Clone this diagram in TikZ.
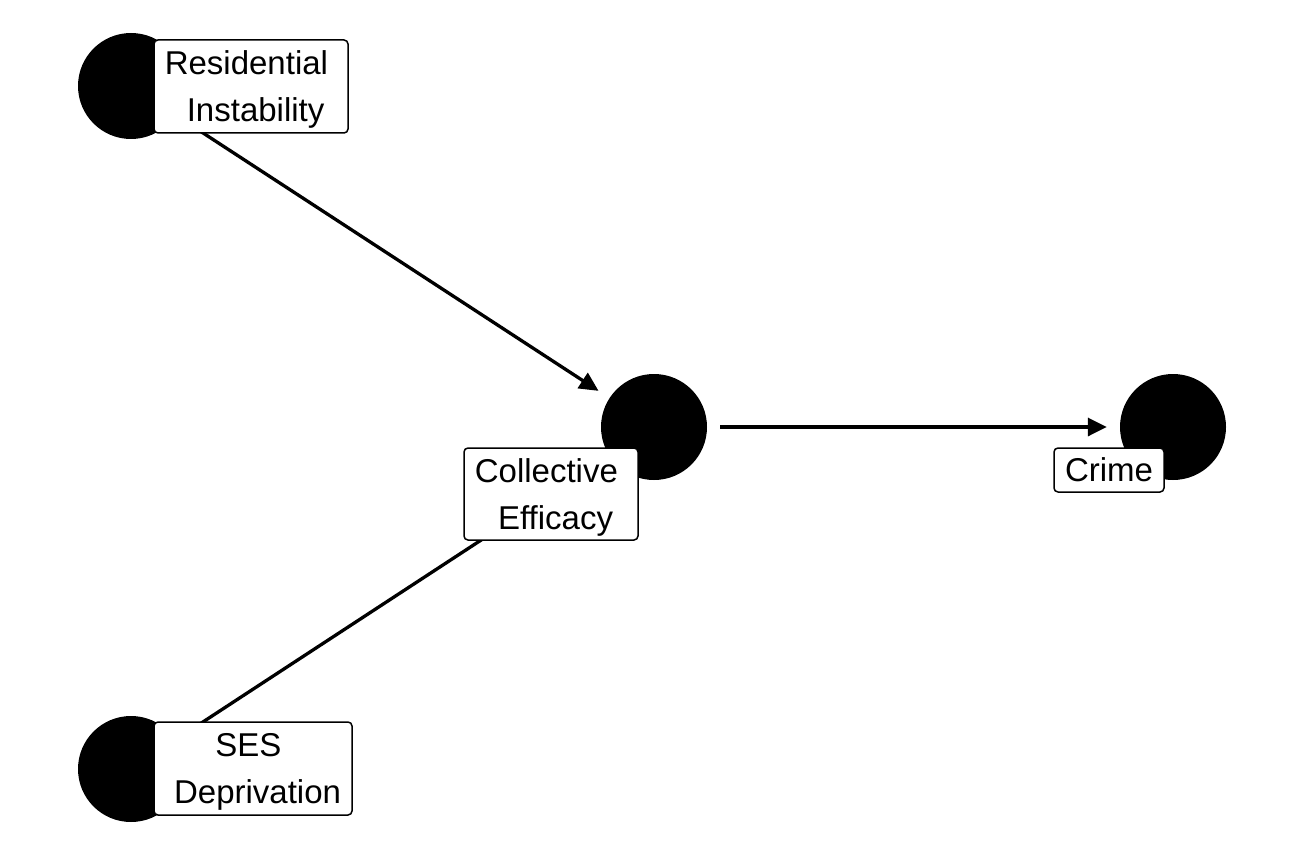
\documentclass[tikz,border=0pt]{standalone}
\usepackage{fontspec}
\setmainfont{Liberation Sans}
\usetikzlibrary{arrows.meta}
\begin{document}
\begin{tikzpicture}[x=1pt,y=-1pt,
  latent/.style={circle,fill=black,draw=none,minimum size=106pt,inner sep=0pt},
  lbl/.style={draw=black,line width=1.5pt,fill=white,rounded corners=4pt,align=center,inner sep=0pt,font=\fontsize{33}{47}\selectfont},
  edge/.style={line width=3.3pt,-{Triangle[length=19pt,width=18pt]},shorten >=13pt,shorten <=13pt}]
\useasboundingbox[fill=white] (0,0) rectangle (1296,864);
\node[latent] (res) at (131,86) {};
\node[latent] (col) at (654,427) {};
\node[latent] (crime) at (1173,427) {};
\node[latent] (ses) at (131,769) {};
\draw[edge] (res) -- (col);
\draw[edge] (ses) -- (col);
\draw[edge] (col) -- (crime);
\node[lbl,minimum width=194pt,minimum height=93pt] (reslbl) at (251,86.5) {Residential\kern0.278em\\\smash{\kern0.278em Instability}};
\node[lbl,minimum width=174pt,minimum height=92pt] (collbl) at (551,494) {Collective\kern0.278em\\\smash{\kern0.278em Efficacy}};
\node[lbl,minimum width=110pt,minimum height=44pt] (crimelbl) at (1109,470) {Crime};
\node[lbl,minimum width=198pt,minimum height=93pt] (seslbl) at (253,768.5) {SES\kern0.278em\\\smash{\kern0.278em Deprivation}};
\end{tikzpicture}
\end{document}
